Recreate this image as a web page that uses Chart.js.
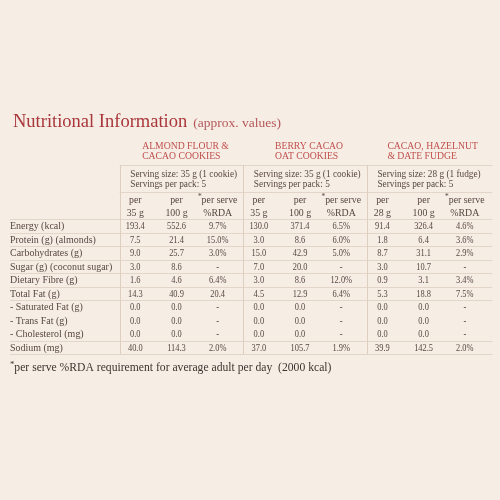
<!DOCTYPE html>
<html><head><meta charset="utf-8">
<script src="https://cdn.jsdelivr.net/npm/chart.js@4.4.1/dist/chart.umd.min.js"></script>
<style>html,body{margin:0;padding:0;background:#f6ede4;}#wrap{width:500px;height:500px;}</style>
</head><body><div id="wrap"><canvas id="c" width="500" height="500"></canvas></div>
<script>
// ---------- data ----------
const titleText = 'Nutritional Information';
const subtitleText = '(approx. values)';
const products = [['ALMOND FLOUR &', 'CACAO COOKIES'], ['BERRY CACAO', 'OAT COOKIES'], ['CACAO, HAZELNUT', '& DATE FUDGE']];
const servingSize = ['Serving size: 35 g (1 cookie)', 'Serving size: 35 g (1 cookie)', 'Serving size: 28 g (1 fudge)'];
const servingsPerPack = ['Servings per pack: 5', 'Servings per pack: 5', 'Servings per pack: 5'];
const columns = ['A1', 'A2', 'A3', 'B1', 'B2', 'B3', 'C1', 'C2', 'C3'];
const colHeadTop = ['per', 'per', '*per serve', 'per', 'per', '*per serve', 'per', 'per', '*per serve'];
const colHeadBottom = ['35 g', '100 g', '%RDA', '35 g', '100 g', '%RDA', '28 g', '100 g', '%RDA'];
const headerRows = ['Serving size', 'Servings per pack', 'per', 'unit'];
const nutrients = ['Energy (kcal)', 'Protein (g) (almonds)', 'Carbohydrates (g)', 'Sugar (g) (coconut sugar)',
  'Dietary Fibre (g)', 'Total Fat (g)', '- Saturated Fat (g)', '- Trans Fat (g)', '- Cholesterol (mg)', 'Sodium (mg)'];
const subNutrients = ['- Saturated Fat (g)', '- Trans Fat (g)', '- Cholesterol (mg)'];
const almondPerServe = [193.4, 7.5, 9.0, 3.0, 1.6, 14.3, 0.0, 0.0, 0.0, 40.0];
const almondPer100 = [552.6, 21.4, 25.7, 8.6, 4.6, 40.9, 0.0, 0.0, 0.0, 114.3];
const almondRDA = ['9.7%', '15.0%', '3.0%', '-', '6.4%', '20.4', '-', '-', '-', '2.0%'];
const berryPerServe = [130.0, 3.0, 15.0, 7.0, 3.0, 4.5, 0.0, 0.0, 0.0, 37.0];
const berryPer100 = [371.4, 8.6, 42.9, 20.0, 8.6, 12.9, 0.0, 0.0, 0.0, 105.7];
const berryRDA = ['6.5%', '6.0%', '5.0%', '-', '12.0%', '6.4%', '-', '-', '-', '1.9%'];
const fudgePerServe = [91.4, 1.8, 8.7, 3.0, 0.9, 5.3, 0.0, 0.0, 0.0, 39.9];
const fudgePer100 = [326.4, 6.4, 31.1, 10.7, 3.1, 18.8, 0.0, 0.0, 0.0, 142.5];
const fudgeRDA = ['4.6%', '3.6%', '2.9%', '-', '3.4%', '7.5%', '-', '-', '-', '2.0%'];
const footnote = 'per serve %RDA requirement for average adult per day  (2000 kcal)';

// ---------- build ----------
const valueCols = [almondPerServe, almondPer100, almondRDA, berryPerServe, berryPer100, berryRDA, fudgePerServe, fudgePer100, fudgeRDA];
const rows = headerRows.concat(nutrients);
const fmt = v => typeof v === 'number' ? v.toFixed(1) : v;

const datasets = valueCols.map((vals, c) => ({
  kind: 'cell',
  data: [{x: columns[c], y: 'per', t: colHeadTop[c]}, {x: columns[c], y: 'unit', t: colHeadBottom[c]}]
    .concat(nutrients.map((n, r) => ({x: columns[c], y: n, t: fmt(vals[r])}))),
  pointRadius: 0
}));
datasets.push({
  kind: 'serving',
  data: [0, 1, 2].map(g => ({x: columns[g * 3], y: 'Serving size', t: servingSize[g]}))
    .concat([0, 1, 2].map(g => ({x: columns[g * 3], y: 'Servings per pack', t: servingsPerPack[g]}))),
  pointRadius: 0
});

const BG = '#f6ede4', TXT = '#574842', RED = '#a9363a', RED2 = '#c0504f', LINE = '#e3d6c9', VLINE = '#ddcfc0';
const SERIF = '"Liberation Serif", "Times New Roman", serif';

function txt(ctx, s, x, y, size, color, align, sx) {
  ctx.save();
  ctx.font = size + 'px ' + SERIF;
  ctx.fillStyle = color; ctx.textBaseline = 'middle'; ctx.textAlign = align || 'left';
  ctx.translate(x, y); ctx.scale(sx || 1, 1);
  ctx.fillText(s, 0, 0);
  ctx.restore();
}
function starTxt(ctx, s, x, y, size, color, sx, align) {
  ctx.save();
  ctx.font = size + 'px ' + SERIF;
  const rest = s.slice(1);
  const rw = ctx.measureText(rest).width * sx;
  ctx.font = (size * 0.75) + 'px ' + SERIF;
  const sw = ctx.measureText('*').width * sx;
  ctx.restore();
  const left = align === 'center' ? x - (rw + sw) / 2 : x;
  txt(ctx, '*', left, y - size * 0.3, size * 0.75, color, 'left', sx);
  txt(ctx, rest, left + sw, y, size, color, 'left', sx);
}

const tablePlugin = {
  id: 'table',
  beforeDraw(chart) {
    const ctx = chart.ctx;
    ctx.save(); ctx.fillStyle = BG; ctx.fillRect(0, 0, chart.width, chart.height); ctx.restore();
  },
  afterDatasetsDraw(chart) {
    const ctx = chart.ctx, xs = chart.scales.x, ys = chart.scales.y, ca = chart.chartArea;
    const band = ys.getPixelForValue(1) - ys.getPixelForValue(0);
    const cb = xs.getPixelForValue(1) - xs.getPixelForValue(0);
    const rowTop = i => ys.getPixelForValue(i) - band / 2;
    const groupLeft = g => xs.getPixelForValue(g * 3) - cb * 0.38;
    const lineRight = ca.right + 7, labelLeft = 10;
    ctx.save(); ctx.lineWidth = 1; ctx.strokeStyle = LINE;
    const hline = (y, x0) => { ctx.beginPath(); ctx.moveTo(x0, Math.round(y) + 0.5); ctx.lineTo(lineRight, Math.round(y) + 0.5); ctx.stroke(); };
    hline(rowTop(0), groupLeft(0));
    hline(rowTop(2), groupLeft(0));
    rows.forEach((r, i) => {
      if (i < 4) return;
      const isSub = subNutrients.includes(r);
      const prevSub = subNutrients.includes(rows[i - 1]);
      if (!(isSub && prevSub)) hline(rowTop(i), labelLeft);
    });
    hline(rowTop(rows.length - 1) + band, labelLeft);
    ctx.strokeStyle = VLINE;
    [0, 1, 2].forEach(g => {
      const x = Math.round(groupLeft(g)) + 0.5;
      ctx.beginPath(); ctx.moveTo(x, rowTop(0)); ctx.lineTo(x, rowTop(rows.length - 1) + band); ctx.stroke();
    });
    ctx.restore();

    // title
    ctx.save();
    ctx.font = '18.5px ' + SERIF; ctx.fillStyle = RED; ctx.textBaseline = 'alphabetic';
    ctx.fillText(titleText, 13, 127);
    const tw = ctx.measureText(titleText).width;
    ctx.font = '13.5px ' + SERIF; ctx.fillStyle = '#b5575a';
    ctx.fillText(subtitleText, 13 + tw + 6, 127);
    ctx.restore();

    // product names
    products.forEach((p, g) => {
      const cx = xs.getPixelForValue(g * 3 + 1) + 9;
      ctx.save(); ctx.font = '9.7px ' + SERIF; const w = ctx.measureText(p[0]).width; ctx.restore();
      const x0 = cx - w / 2;
      txt(ctx, p[0], x0, rowTop(0) - 19, 9.7, RED2, 'left');
      txt(ctx, p[1], x0, rowTop(0) - 8.5, 9.7, RED2, 'left');
    });

    // row labels
    nutrients.forEach(n => {
      txt(ctx, n, labelLeft, ys.getPixelForValue(n) + 0.5, 10.5, TXT, 'left', 0.95);
    });

    // cells
    chart.data.datasets.forEach((ds, di) => {
      const meta = chart.getDatasetMeta(di);
      meta.data.forEach((el, j) => {
        const d = ds.data[j];
        if (ds.kind === 'serving') {
          const dy = d.y === 'Serving size' ? 2.5 : -1;
          txt(ctx, d.t, el.x - 5, el.y + dy, 10.3, TXT, 'left', 0.9);
        } else if (d.y === 'per' || d.y === 'unit') {
          const dy = d.y === 'per' ? 1.5 : 1;
          if (d.t[0] === '*') starTxt(ctx, d.t, el.x, el.y + dy, 10.6, TXT, 0.93, 'center');
          else txt(ctx, d.t, el.x, el.y + dy, 10.6, TXT, 'center', 0.93);
        } else {
          txt(ctx, d.t, el.x, el.y + 0.5, 10.5, TXT, 'center', 0.8);
        }
      });
    });

    // footnote
    starTxt(ctx, '*' + footnote, 10, rowTop(rows.length - 1) + band + 14, 12, '#3f3430', 0.97, 'left');
  }
};

new Chart(document.getElementById('c'), {
  type: 'scatter',
  data: {datasets},
  options: {
    responsive: false,
    animation: false,
    layout: {padding: {left: 114.7, right: 14.6, top: 165, bottom: 146}},
    scales: {
      x: {type: 'category', labels: columns, offset: true, display: false},
      y: {type: 'category', labels: rows, offset: true, display: false}
    },
    plugins: {legend: {display: false}, tooltip: {enabled: false}}
  },
  plugins: [tablePlugin]
});
</script></body></html>
